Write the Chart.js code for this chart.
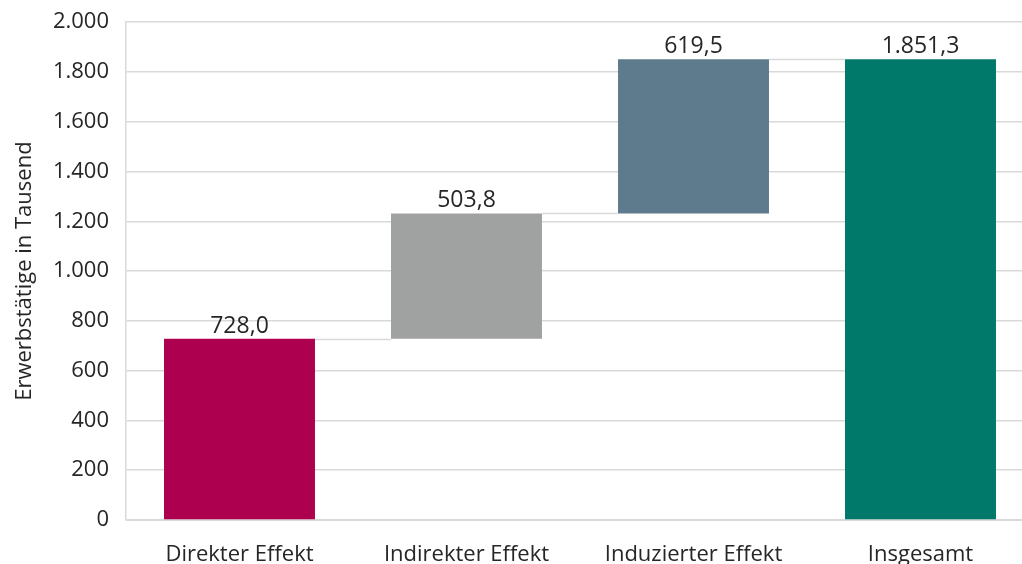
<!DOCTYPE html>
<html lang="de">
<head>
<meta charset="utf-8">
<title>Erwerbstätige – Beschäftigungseffekte</title>
<script src="https://cdn.jsdelivr.net/npm/chart.js@4/dist/chart.umd.min.js"></script>
<style>
  html, body { margin: 0; padding: 0; background: #ffffff; overflow: hidden; }
  #wrap { position: absolute; left: 0; top: -8px; width: 1036px; height: 572px; }
</style>
</head>
<body>
<div id="wrap"><canvas id="chart"></canvas></div>
<script>
// Kategorien und Werte (Erwerbstätige in Tausend)
const categories = ['Direkter Effekt', 'Indirekter Effekt', 'Induzierter Effekt', 'Insgesamt'];
const effects = [728.0, 503.8, 619.5];
const total = 1851.3;
const yTicks = [0, 200, 400, 600, 800, 1000, 1200, 1400, 1600, 1800, 2000];
const barColors = ['#AD004F', '#A0A2A1', '#5E7B8E', '#00786A'];

const FONT = '"Open Sans", "Noto Sans", sans-serif';
const TEXT = '#262626';
const GRID = '#d9d9d9';

// Schwebende Balken des Wasserfalls: [Start, Ende]
const ranges = [];
const labelValues = [];
let running = 0;
effects.forEach(v => {
  ranges.push([running, running + v]);
  labelValues.push(v);
  running += v;
});
ranges.push([0, total]);
labelValues.push(total);

function fmtInt(n) {
  return String(Math.round(n)).replace(/\B(?=(\d{3})+(?!\d))/g, '.');
}
function fmtDec(n) {
  const s = n.toFixed(1);
  const [i, d] = s.split('.');
  return i.replace(/\B(?=(\d{3})+(?!\d))/g, '.') + ',' + d;
}

// Verbindungslinien und Wertbeschriftungen
const waterfallDecor = {
  id: 'waterfallDecor',
  afterDatasetsDraw(chart) {
    const { ctx } = chart;
    const meta = chart.getDatasetMeta(0);
    const y = chart.scales.y;
    ctx.save();
    ctx.strokeStyle = GRID;
    ctx.lineWidth = 1.5;
    for (let i = 0; i < meta.data.length - 1; i++) {
      const a = meta.data[i], b = meta.data[i + 1];
      const level = ranges[i][1];
      const py = Math.round(y.getPixelForValue(level)) + 0.5;
      ctx.beginPath();
      ctx.moveTo(a.x + a.width / 2, py);
      ctx.lineTo(b.x - b.width / 2, py);
      ctx.stroke();
    }
    ctx.fillStyle = TEXT;
    ctx.font = '23px ' + FONT;
    ctx.textAlign = 'center';
    ctx.textBaseline = 'alphabetic';
    meta.data.forEach((bar, i) => {
      const top = y.getPixelForValue(ranges[i][1]);
      ctx.fillText(fmtDec(labelValues[i]), bar.x, top - 6);
    });
    ctx.restore();
  }
};

new Chart(document.getElementById('chart'), {
  type: 'bar',
  data: {
    labels: categories,
    datasets: [{
      data: ranges,
      backgroundColor: barColors,
      borderWidth: 0,
      barPercentage: 0.665,
      categoryPercentage: 1.0
    }]
  },
  options: {
    responsive: true,
    maintainAspectRatio: false,
    animation: false,
    events: [],
    layout: { padding: { top: 15, right: 2, left: 0, bottom: 0 } },
    plugins: {
      legend: { display: false },
      tooltip: { enabled: false }
    },
    scales: {
      x: {
        grid: { display: false },
        border: { display: true, color: GRID, width: 1 },
        ticks: {
          color: TEXT,
          font: { family: FONT, size: 22 },
          padding: 14,
          maxRotation: 0,
          autoSkip: false
        },
        afterFit(scale) { scale.height = 44; }
      },
      y: {
        min: 0,
        max: 2000,
        afterBuildTicks(scale) { scale.ticks = yTicks.map(v => ({ value: v })); },
        grid: { color: GRID, lineWidth: 1.5, drawTicks: false },
        border: { display: true, color: GRID, width: 1.5 },
        ticks: {
          color: TEXT,
          font: { family: FONT, size: 22 },
          padding: 17,
          callback: v => fmtInt(v)
        },
        title: {
          display: true,
          text: 'Erwerbstätige in Tausend',
          color: TEXT,
          font: { family: FONT, size: 22 },
          padding: { top: 12, bottom: 0 }
        },
        afterFit(scale) { scale.width = 126; }
      }
    }
  },
  plugins: [waterfallDecor]
});
</script>
</body>
</html>
